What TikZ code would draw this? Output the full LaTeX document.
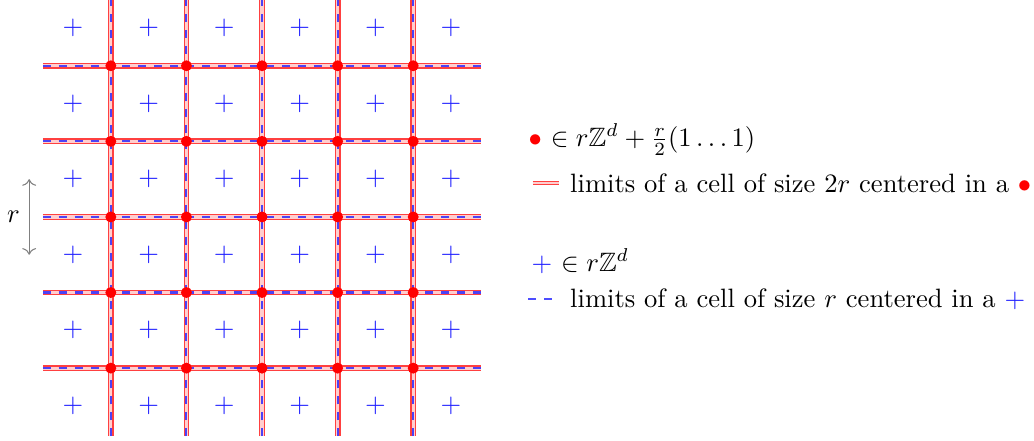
\documentclass[tikz,border=0pt]{standalone}
\usepackage{amssymb}
\usepackage{tikz}
\usetikzlibrary{arrows.meta}
\definecolor{dotred}{HTML}{FF0000}
\definecolor{plusblue}{HTML}{2020FF}
\tikzset{
  bigcell/.style={draw=dotred, opacity=0.75, line width=0.5pt, double=white, double distance=1.2pt},
  smallcell/.style={draw=plusblue, opacity=0.8, line width=0.8pt, dashed},
  reddot/.style={circle, fill=dotred, inner sep=0pt, minimum size=1.45mm},
  plusmark/.style={text=plusblue, inner sep=0pt},
  legend/.style={anchor=west, inner sep=0pt}
}

\begin{document}
\begin{tikzpicture}[x=1cm, y=1cm]
\useasboundingbox (-0.966,-0.463) rectangle (12.712,5.370);
\foreach \k in {0.5,1.5,...,4.5} {
  \draw[bigcell] (-0.4,\k) -- (5.4,\k);
  \draw[bigcell] (\k,-0.4) -- (\k,5.4);
}
\foreach \k in {0.5,1.5,...,4.5} {
  \draw[smallcell] (-0.4,\k) -- (5.4,\k);
  \draw[smallcell] (\k,-0.4) -- (\k,5.4);
}
\foreach \i in {0,...,5}
  \foreach \j in {0,...,5}
    \node[plusmark] (p-\i-\j) at (\i,\j) {$+$};
\foreach \i in {0,...,4}
  \foreach \j in {0,...,4}
    \node[reddot] (d-\i-\j) at (\i+0.5,\j+0.5) {};
\coordinate (r-lo) at (-0.58,2);
\coordinate (r-hi) at (-0.58,3);
\draw[gray, {To[length=2.5pt]}-{To[length=2.5pt]}] (r-lo) -- node[left, text=black] (r-lab) {$r$} (r-hi);
\node[legend] (leg-dot) at (6.02,3.519) {{\color{dotred}$\bullet$} $\in r\mathbb{Z}^d+\frac{r}{2}(1\ldots1)$};
\coordinate (big-a) at (6.08,2.95);
\coordinate (big-b) at (6.43,2.95);
\draw[bigcell, line width=0.4pt, double distance=0.9pt] (big-a) -- (big-b);
\node[legend] (leg-big) at (6.57,2.95) {limits of a cell of size $2r$ centered in a {\color{dotred}$\bullet$}};
\node[legend] (leg-plus) at (6.06,1.918) {{\color{plusblue}$+$} $\in r\mathbb{Z}^d$};
\coordinate (small-a) at (6.02,1.415);
\coordinate (small-b) at (6.42,1.415);
\draw[smallcell] (small-a) -- (small-b);
\node[legend] (leg-small) at (6.57,1.415) {limits of a cell of size $r$ centered in a {\color{plusblue}$+$}};
\end{tikzpicture}
\end{document}
